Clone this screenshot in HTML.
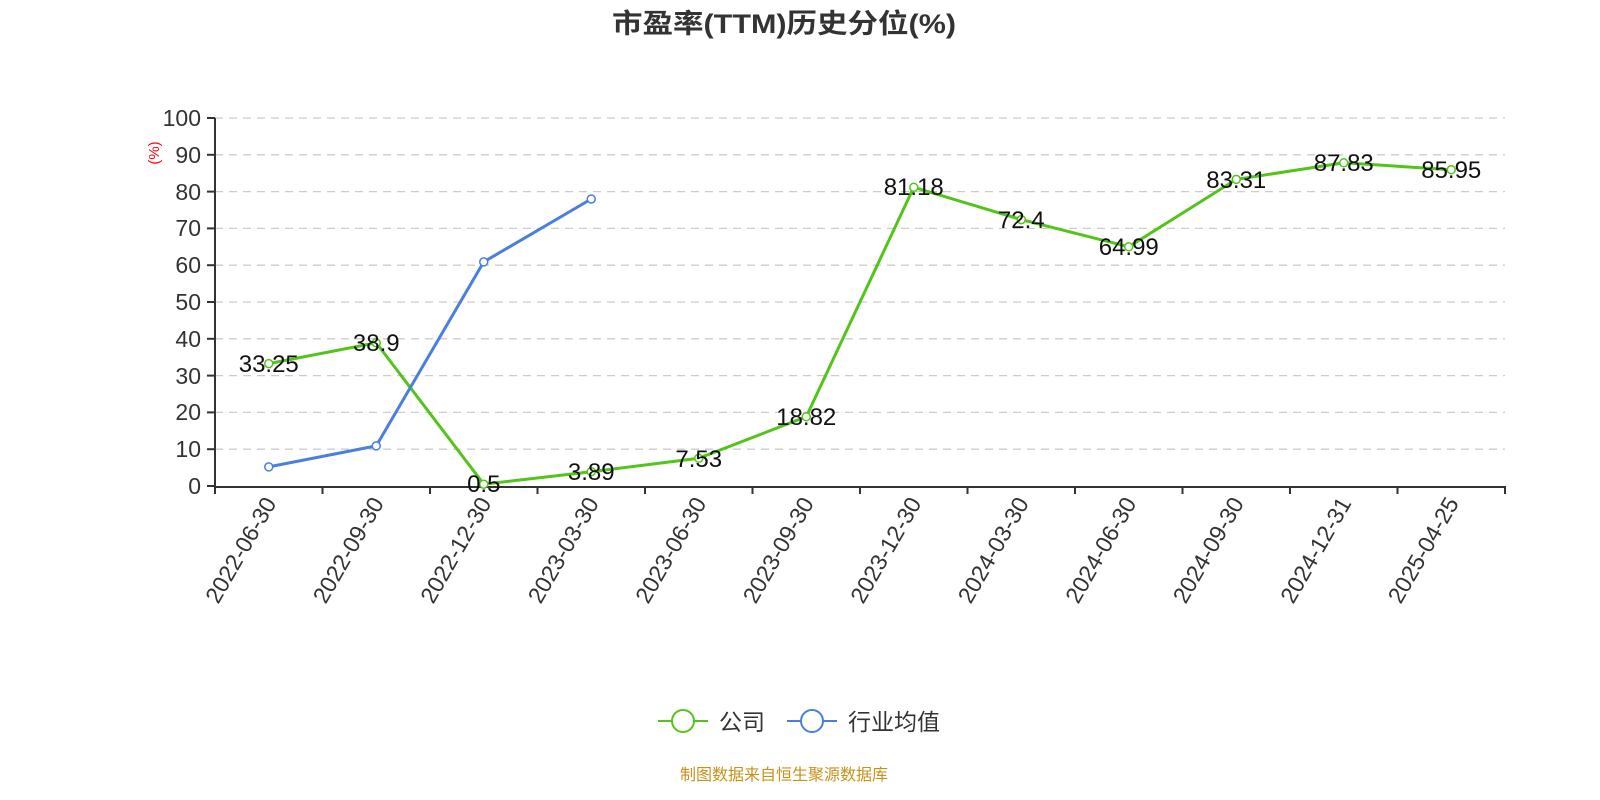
<!DOCTYPE html>
<html><head><meta charset="utf-8"><style>body{margin:0;background:#fff;overflow:hidden}svg{display:block}text{font-family:"Liberation Sans","Noto Sans CJK SC",sans-serif}</style></head>
<body>
<svg width="1600" height="800" viewBox="0 0 1600 800">
<text x="784" y="33" text-anchor="middle" font-size="27" font-weight="bold" fill="#333" textLength="344" lengthAdjust="spacingAndGlyphs">市盈率(TTM)历史分位(%)</text>
<g stroke="#ccc" stroke-width="1.3" stroke-dasharray="8,6">
<line x1="215" x2="1505" y1="118" y2="118"/><line x1="215" x2="1505" y1="154.8" y2="154.8"/><line x1="215" x2="1505" y1="191.6" y2="191.6"/><line x1="215" x2="1505" y1="228.4" y2="228.4"/><line x1="215" x2="1505" y1="265.2" y2="265.2"/><line x1="215" x2="1505" y1="302" y2="302"/><line x1="215" x2="1505" y1="338.8" y2="338.8"/><line x1="215" x2="1505" y1="375.6" y2="375.6"/><line x1="215" x2="1505" y1="412.4" y2="412.4"/><line x1="215" x2="1505" y1="449.2" y2="449.2"/>
</g>
<g stroke="#333" stroke-width="2">
<line x1="215" x2="215" y1="118" y2="487"/><line x1="214" x2="1506" y1="487" y2="487"/>
<line x1="207" x2="215" y1="118" y2="118"/><line x1="207" x2="215" y1="154.8" y2="154.8"/><line x1="207" x2="215" y1="191.6" y2="191.6"/><line x1="207" x2="215" y1="228.4" y2="228.4"/><line x1="207" x2="215" y1="265.2" y2="265.2"/><line x1="207" x2="215" y1="302" y2="302"/><line x1="207" x2="215" y1="338.8" y2="338.8"/><line x1="207" x2="215" y1="375.6" y2="375.6"/><line x1="207" x2="215" y1="412.4" y2="412.4"/><line x1="207" x2="215" y1="449.2" y2="449.2"/><line x1="207" x2="215" y1="486" y2="486"/>
<line x1="215" x2="215" y1="487" y2="494"/><line x1="322.5" x2="322.5" y1="487" y2="494"/><line x1="430" x2="430" y1="487" y2="494"/><line x1="537.5" x2="537.5" y1="487" y2="494"/><line x1="645" x2="645" y1="487" y2="494"/><line x1="752.5" x2="752.5" y1="487" y2="494"/><line x1="860" x2="860" y1="487" y2="494"/><line x1="967.5" x2="967.5" y1="487" y2="494"/><line x1="1075" x2="1075" y1="487" y2="494"/><line x1="1182.5" x2="1182.5" y1="487" y2="494"/><line x1="1290" x2="1290" y1="487" y2="494"/><line x1="1397.5" x2="1397.5" y1="487" y2="494"/><line x1="1505" x2="1505" y1="487" y2="494"/>
</g>
<g font-size="23" fill="#333" text-anchor="end">
<text x="201" y="126">100</text><text x="201" y="163">90</text><text x="201" y="200">80</text><text x="201" y="236">70</text><text x="201" y="273">60</text><text x="201" y="310">50</text><text x="201" y="347">40</text><text x="201" y="384">30</text><text x="201" y="420">20</text><text x="201" y="457">10</text><text x="201" y="494">0</text>
</g>
<text transform="translate(159,153) rotate(-90)" text-anchor="middle" font-size="15" fill="red">(%)</text>
<g font-size="23" fill="#333" text-anchor="end">
<text transform="translate(277,503) rotate(-60)">2022-06-30</text>
<text transform="translate(384.5,503) rotate(-60)">2022-09-30</text>
<text transform="translate(492,503) rotate(-60)">2022-12-30</text>
<text transform="translate(599.5,503) rotate(-60)">2023-03-30</text>
<text transform="translate(707,503) rotate(-60)">2023-06-30</text>
<text transform="translate(814.5,503) rotate(-60)">2023-09-30</text>
<text transform="translate(922,503) rotate(-60)">2023-12-30</text>
<text transform="translate(1029.5,503) rotate(-60)">2024-03-30</text>
<text transform="translate(1137,503) rotate(-60)">2024-06-30</text>
<text transform="translate(1244.5,503) rotate(-60)">2024-09-30</text>
<text transform="translate(1352,503) rotate(-60)">2024-12-31</text>
<text transform="translate(1459.5,503) rotate(-60)">2025-04-25</text>
</g>
<polyline fill="none" stroke="#52c41a" stroke-width="3" points="268.75,363.6 376.25,342.8 483.75,484.2 591.25,471.7 698.75,458.3 806.25,416.7 913.75,187.3 1021.25,219.6 1128.75,246.8 1236.25,179.4 1343.75,162.8 1451.25,169.7"/>
<polyline fill="none" stroke="#4a7fdc" stroke-width="3" points="268.75,466.9 376.25,445.9 483.75,261.9 591.25,199"/>
<g fill="#fff" stroke="#52c41a" stroke-width="1.5">
<circle cx="268.75" cy="363.6" r="4"/><circle cx="376.25" cy="342.8" r="4"/><circle cx="483.75" cy="484.2" r="4"/><circle cx="591.25" cy="471.7" r="4"/><circle cx="698.75" cy="458.3" r="4"/><circle cx="806.25" cy="416.7" r="4"/><circle cx="913.75" cy="187.3" r="4"/><circle cx="1021.25" cy="219.6" r="4"/><circle cx="1128.75" cy="246.8" r="4"/><circle cx="1236.25" cy="179.4" r="4"/><circle cx="1343.75" cy="162.8" r="4"/><circle cx="1451.25" cy="169.7" r="4"/>
</g>
<g fill="#fff" stroke="#4a7fdc" stroke-width="1.5">
<circle cx="268.75" cy="466.9" r="4"/><circle cx="376.25" cy="445.9" r="4"/><circle cx="483.75" cy="261.9" r="4"/><circle cx="591.25" cy="199" r="4"/>
</g>
<g font-size="24" fill="#111" text-anchor="middle">
<text x="268.75" y="372">33.25</text><text x="376.25" y="351">38.9</text><text x="483.75" y="492">0.5</text><text x="591.25" y="480">3.89</text><text x="698.75" y="467">7.53</text><text x="806.25" y="425">18.82</text><text x="913.75" y="195">81.18</text><text x="1021.25" y="228">72.4</text><text x="1128.75" y="255">64.99</text><text x="1236.25" y="188">83.31</text><text x="1343.75" y="171">87.83</text><text x="1451.25" y="178">85.95</text>
</g>
<line x1="658" x2="708" y1="721" y2="721" stroke="#52c41a" stroke-width="2"/>
<circle cx="683" cy="721" r="11" fill="#fff" stroke="#52c41a" stroke-width="2"/>
<text x="719" y="730" font-size="23" fill="#333">公司</text>
<line x1="787" x2="837" y1="721" y2="721" stroke="#4a7fdc" stroke-width="2"/>
<circle cx="812" cy="721" r="11" fill="#fff" stroke="#4a7fdc" stroke-width="2"/>
<text x="848" y="730" font-size="23" fill="#333">行业均值</text>
<text x="784" y="780" text-anchor="middle" font-size="16" fill="#c8921a">制图数据来自恒生聚源数据库</text>
</svg>
</body></html>
